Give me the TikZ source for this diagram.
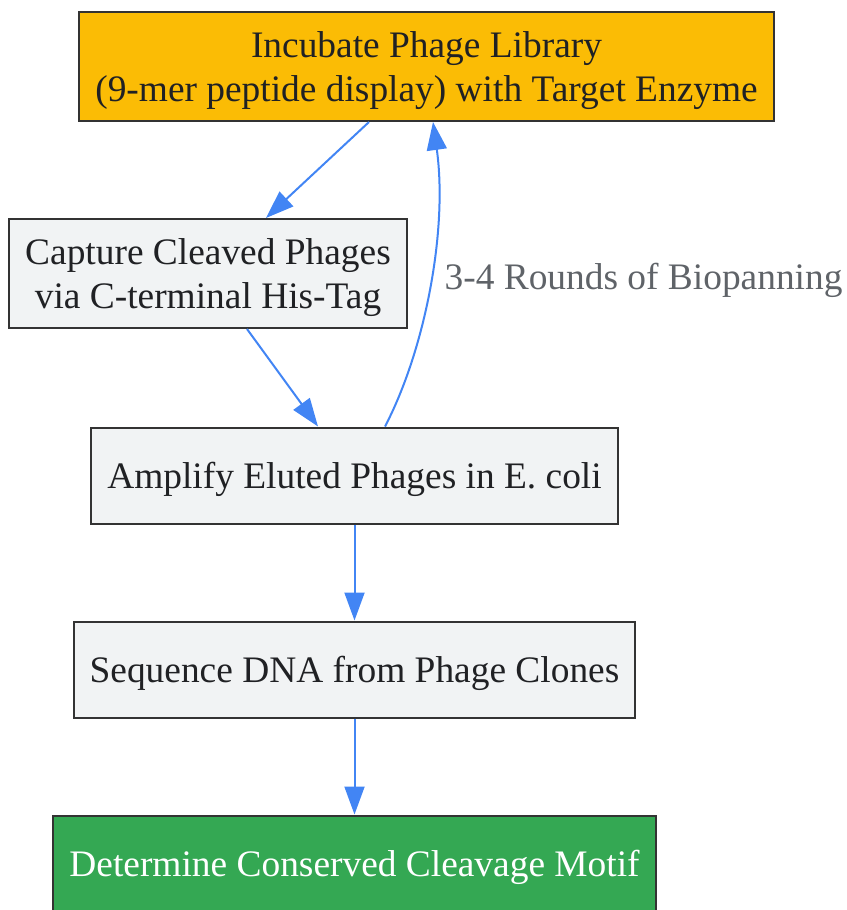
\documentclass[tikz,border=0pt]{standalone}
\usepackage{fontspec}
\setmainfont{Liberation Serif}
\usetikzlibrary{arrows.meta,positioning}

\definecolor{gYellow}{HTML}{FBBC05}
\definecolor{gGreen}{HTML}{34A853}
\definecolor{gGrey}{HTML}{F1F3F4}
\definecolor{gBlue}{HTML}{4285F4}
\definecolor{gEdge}{HTML}{333333}
\definecolor{gText}{HTML}{202124}
\definecolor{gLabel}{HTML}{5F6368}

\tikzset{
  stepbox/.style={draw=gEdge, line width=1pt, rectangle, fill=gGrey, text=gText,
    inner xsep=8pt, inner ysep=4pt, minimum height=48pt, align=center, text depth=0pt,
    font=\fontsize{18.7}{21.7}\selectfont},
  startbox/.style={stepbox, fill=gYellow, minimum height=54.5pt},
  endbox/.style={stepbox, fill=gGreen, text=white},
  flow/.style={->, draw=gBlue, line width=1pt},
  looplabel/.style={text=gLabel, font=\fontsize{18.7}{21.7}\selectfont, inner sep=0pt}
}

\begin{document}
\begin{tikzpicture}[x=0.5pt, y=-0.5pt, node distance=48pt, >={Triangle[length=14pt,width=10pt]}]
        \useasboundingbox (0,0) rectangle (846,910);
        % Nodes
        \node (incubate) [startbox] at (426.5,66.5) {Incubate Phage Library\\(9-mer peptide display) with Target Enzyme};
        \node (capture) [stepbox, minimum height=54.5pt] at (208,273.5) {Capture Cleaved Phages\\via C-terminal His-Tag};
        \node (amplify) [stepbox] at (354.5,475.5) {Amplify Eluted Phages in E. coli};
        \node (sequence) [stepbox, below=of amplify] {Sequence DNA from Phage Clones};
        \node (motif) [endbox, below=of sequence] {Determine Conserved Cleavage Motif};

        % Selection cycle
        \draw[flow] (incubate.south -| 369,0) -- (capture.north -| 266,0);
        \draw[flow] (capture.south -| 247,0) -- (amplify.north -| 318,0);
        \draw[flow] (amplify.north -| 385,0) .. controls (425,350) and (448,230) .. (incubate.south -| 433,0)
            node (rounds) [looplabel, pos=0.5, anchor=west, xshift=7pt, yshift=3pt] {3-4 Rounds of Biopanning};

        % Analysis
        \draw[flow] (amplify) -- (sequence);
        \draw[flow] (sequence) -- (motif);
    \end{tikzpicture}
\end{document}
